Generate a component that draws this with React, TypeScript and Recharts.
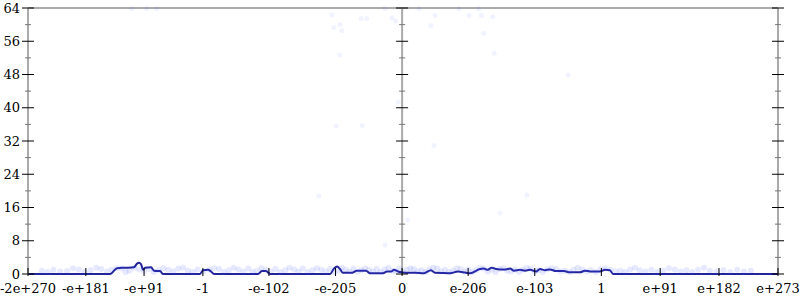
import React from 'react';
import { ComposedChart, Line, Scatter, XAxis, YAxis, ReferenceLine } from 'recharts';

// x positions are in "binary exponent" units (0 = zero, 1023 = 1.0)
const X_TICKS = [-1921, -1624, -1325, -1023, -684, -342, 0, 339, 681, 1023, 1325, 1627, 1930];
const X_LABELS = ['-2e+270', '-e+181', '-e+91', '-1', '-e-102', '-e-205', '0', 'e-206', 'e-103', '1', 'e+91', 'e+182', 'e+273'];
const Y_TICKS = [0, 4, 8, 12, 16, 20, 24, 28, 32, 36, 40, 44, 48, 52, 56, 60, 64];

// density line
const LINE_X = [-1921, -1500, -1464, -1423, -1377, -1361, -1351, -1341, -1330, -1320, -1289, -1274, -1243, -1228, -1038, -1022, -997, -981, -966, -740, -720, -699, -678, -370, -350, -334, -319, -304, -257, -232, -185, -165, -98, -78, -57, -42, -21, 0, 20, 66, 112, 148, 169, 246, 287, 328, 349, 400, 420, 436, 461, 482, 503, 533, 554, 574, 605, 631, 657, 688, 708, 734, 759, 790, 831, 862, 913, 939, 965, 1016, 1042, 1067, 1083, 1930];
const LINE_Y = [0, 0, 1.4, 1.5, 1.6, 2.5, 2.7, 2.4, 1.0, 1.5, 1.6, 0.8, 0.7, 0, 0, 0.9, 1.0, 0.6, 0, 0, 0.7, 0.7, 0, 0, 1.3, 1.8, 1.2, 0.3, 0.3, 0.8, 0.8, 0.2, 0.2, 0.6, 0.6, 1.0, 0.6, 0.4, 0.3, 0.3, 0.2, 0.9, 0.3, 0.2, 0.6, 0.3, 0.2, 1.2, 1.3, 1.0, 1.5, 1.2, 1.1, 1.1, 1.3, 0.8, 1.0, 0.8, 1.0, 0.6, 1.2, 0.9, 1.1, 0.7, 0.7, 0.4, 0.4, 0.8, 0.6, 0.6, 1.0, 0.9, 0, 0];

// faint sample points, high up
const HIGH_X = [-1389, -1312, -1260, -362, -211, -182, -52, -33, -350, -319, -310, -321, -88, 87, 169, 148, 292, 343, 393, 407, 465, 419, 473, -20, -204, 164, 641, 852, -88, 30, -427, 503, -339];
const HIGH_Y = [63.9, 63.9, 63.9, 62.3, 61.5, 61.5, 61.6, 60.9, 59.3, 60.0, 58.5, 52.7, 63.9, 63.9, 62.2, 59.7, 63.9, 62.2, 63.9, 62.2, 61.9, 57.9, 53.1, 41.4, 35.7, 30.9, 19.0, 47.9, 7.0, 13.0, 18.8, 14.7, 35.6];
// sample points along the bottom band
const BAND_X = [-1850, -1790, -1720, -1660, -1600, -1545, -1490, -1440, -1400, -1350, -1300, -1250, -1200, -1150, -1100, -1050, -990, -940, -890, -840, -790, -745, -700, -650, -600, -555, -510, -460, -415, -370, -330, -290, -250, -210, -170, -130, -90, -50, -15, 25, 60, 100, 140, 180, 220, 260, 300, 340, 380, 420, 460, 500, 540, 580, 620, 660, 700, 745, 790, 835, 880, 925, 970, 1020, 1070, 1120, 1170, 1220, 1280, 1340, 1400, 1460, 1520, 1580, 1650, 1720, 1790];
const BAND_Y = [0.8, 1.0, 0.7, 1.1, 0.9, 1.2, 1.0, 1.3, 0.8, 1.1, 1.2, 0.9, 1.0, 1.3, 0.8, 1.1, 1.0, 1.2, 0.9, 1.1, 1.3, 0.8, 1.0, 1.2, 0.9, 1.1, 1.3, 0.9, 1.0, 1.2, 0.8, 1.1, 1.3, 0.9, 1.0, 1.2, 1.1, 0.8, 1.3, 1.0, 1.2, 0.9, 1.1, 1.3, 1.0, 0.8, 1.2, 1.1, 0.9, 1.3, 1.0, 1.2, 0.8, 1.1, 1.0, 1.3, 0.9, 1.1, 1.2, 0.8, 1.0, 1.1, 0.9, 1.2, 1.0, 0.8, 1.1, 0.9, 1.0, 0.8, 1.1, 0.9, 1.0, 0.8, 0.9, 1.0, 0.8];
const BAND2_X = [-1820, -1755, -1690, -1630, -1570, -1515, -1465, -1420, -1375, -1325, -1275, -1225, -1175, -1125, -1075, -1020, -965, -915, -865, -815, -768, -722, -675, -625, -578, -532, -485, -438, -392, -350, -310, -270, -230, -190, -150, -110, -70, -32, 5, 42, 80, 120, 160, 200, 240, 280, 320, 360, 400, 440, 480, 520, 560, 600, 640, 680, 722, 768, 812, 858, 902, 948, 995, 1045, 1095, 1145, 1195, 1250, 1310, 1370, 1430, 1490, 1550, 1615, 1685, 1755];
const BAND2_Y = [0.5, 0.6, 1.4, 0.5, 1.5, 0.6, 1.4, 0.5, 1.5, 0.7, 0.5, 1.4, 0.6, 1.5, 0.5, 0.6, 1.4, 0.5, 1.5, 0.6, 0.5, 1.4, 0.6, 0.5, 1.5, 0.6, 0.5, 1.4, 0.6, 0.5, 1.5, 0.6, 0.5, 1.4, 0.6, 0.5, 1.5, 0.6, 0.5, 1.4, 0.6, 0.5, 1.5, 0.6, 0.5, 1.4, 0.6, 0.5, 1.5, 0.6, 0.5, 1.4, 0.6, 0.5, 1.5, 0.6, 0.5, 1.4, 0.6, 0.5, 1.5, 0.6, 0.5, 1.4, 0.6, 0.5, 1.5, 0.6, 0.5, 1.4, 0.6, 0.5, 1.5, 0.6, 0.5, 0.6];

const lineData = LINE_X.map((x, i) => ({ x, y: LINE_Y[i] }));
const highDots = HIGH_X.map((x, i) => ({ x, y: HIGH_Y[i] }));
const bandDots = [
  ...BAND_X.map((x, i) => ({ x, y: BAND_Y[i] })),
  ...BAND2_X.map((x, i) => ({ x, y: BAND2_Y[i] })),
];
const centerTicks = Y_TICKS.map((y) => ({ x: 0, y }));

const FONT = "'DejaVu Serif', serif";
const isMajor = (v: number) => v % 8 === 0;

const XTick = (props: any) => {
  const { x, y, payload } = props;
  const idx = X_TICKS.indexOf(payload.value);
  return (
    <g>
      <line x1={x} x2={x} y1={y - 6} y2={y + 2} stroke="#000" />
      <text x={x} y={y + 19} textAnchor="middle" fontSize={13} style={{ fontFamily: FONT }} fill="#000">
        {idx >= 0 ? X_LABELS[idx] : ''}
      </text>
    </g>
  );
};

const LeftTick = (props: any) => {
  const { x, y, payload } = props;
  const major = isMajor(payload.value);
  const w = major ? 6 : 3;
  return (
    <g>
      <line x1={x - w} x2={x + w} y1={y} y2={y} stroke={major ? '#000' : '#777'} />
      {major && (
        <text x={x - 8} y={y + 4.5} textAnchor="end" fontSize={13} style={{ fontFamily: FONT }} fill="#000">
          {payload.value}
        </text>
      )}
    </g>
  );
};

const RightTick = (props: any) => {
  const { x, y, payload } = props;
  const major = isMajor(payload.value);
  const w = major ? 6 : 3;
  return <line x1={x - w} x2={x + w} y1={y} y2={y} stroke={major ? '#000' : '#777'} />;
};

const CenterTick = (props: any) => {
  const { cx, cy, payload } = props;
  const major = isMajor(payload.y);
  const w = major ? 6 : 3;
  return <line x1={cx - w} x2={cx + w} y1={cy} y2={cy} stroke={major ? '#000' : '#777'} />;
};

const FaintDot = (props: any) => (
  <circle cx={props.cx} cy={props.cy} r={2.5} fill="#3f55ff" fillOpacity={0.07} />
);
const BandDot = (props: any) => (
  <circle cx={props.cx} cy={props.cy} r={3} fill="#3f55ff" fillOpacity={0.13} />
);

export default function App() {
  return (
    <div style={{ width: 800, height: 300 }}>
      <style>{'body{margin:0}'}</style>
      <ComposedChart width={800} height={300} data={lineData} margin={{ top: 8, right: 0, bottom: 0, left: 0 }}>
        <XAxis
          type="number"
          dataKey="x"
          domain={[-1921, 1930]}
          ticks={X_TICKS}
          interval={0}
          allowDataOverflow
          height={26}
          tickSize={0}
          tickMargin={0}
          tickLine={false}
          axisLine={false}
          tick={<XTick />}
        />
        <YAxis
          type="number"
          dataKey="y"
          domain={[0, 64]}
          ticks={Y_TICKS}
          interval={0}
          width={28}
          tickSize={0}
          tickMargin={0}
          tickLine={false}
          axisLine={{ stroke: '#aaa', strokeWidth: 2 }}
          tick={<LeftTick />}
        />
        <YAxis
          yAxisId="r"
          orientation="right"
          type="number"
          dataKey="y"
          domain={[0, 64]}
          ticks={Y_TICKS}
          interval={0}
          width={22}
          tickSize={0}
          tickMargin={0}
          tickLine={false}
          axisLine={{ stroke: '#aaa', strokeWidth: 2 }}
          tick={<RightTick />}
        />
        <ReferenceLine y={64} stroke="#aaa" strokeWidth={2} />
        <ReferenceLine x={0} stroke="#aaa" strokeWidth={2} />
        <Scatter data={highDots} dataKey="y" shape={<FaintDot />} isAnimationActive={false} />
        <Scatter data={bandDots} dataKey="y" shape={<BandDot />} isAnimationActive={false} />
        <Scatter data={centerTicks} dataKey="y" shape={<CenterTick />} isAnimationActive={false} />
        <Line
          type="monotone"
          dataKey="y"
          stroke="#23239a"
          strokeWidth={2}
          dot={false}
          isAnimationActive={false}
        />
      </ComposedChart>
    </div>
  );
}
